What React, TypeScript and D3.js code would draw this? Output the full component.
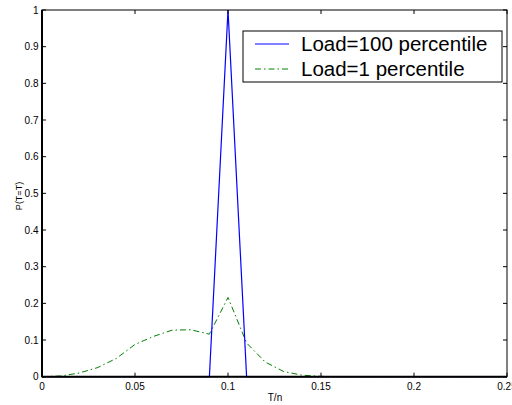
import React from "react";
import * as d3 from "d3";

const xs = [0, 0.01, 0.02, 0.03, 0.04, 0.05, 0.06, 0.07, 0.08, 0.09, 0.1, 0.11, 0.12, 0.13, 0.14, 0.15, 0.16, 0.17, 0.18, 0.19, 0.2, 0.21, 0.22, 0.23, 0.24, 0.25];
const load100 = [0, 0, 0, 0, 0, 0, 0, 0, 0, 0, 1, 0, 0, 0, 0, 0, 0, 0, 0, 0, 0, 0, 0, 0, 0, 0];
const load1 = [0, 0.002, 0.01, 0.025, 0.05, 0.088, 0.11, 0.127, 0.128, 0.116, 0.216, 0.092, 0.04, 0.014, 0.004, 0.001, 0, 0, 0, 0, 0, 0, 0, 0, 0, 0];
const xTicks = [0, 0.05, 0.1, 0.15, 0.2, 0.25];
const yTicks = [0, 0.1, 0.2, 0.3, 0.4, 0.5, 0.6, 0.7, 0.8, 0.9, 1];
const legendLabels = ["Load=100 percentile", "Load=1 percentile"];

export default function App() {
  const W = 512, H = 405;
  const L = 42, R = 507, T = 10, B = 376.7;
  const x = d3.scaleLinear().domain([0, 0.25]).range([L, R]);
  const y = d3.scaleLinear().domain([0, 1]).range([B, T]);
  const line = d3.line<number>().x((_, i) => x(xs[i])).y((d) => y(d));
  const font = "Liberation Sans, Arial, sans-serif";
  const tl = 4;
  return (
    <svg width={W} height={H} style={{ position: "absolute", left: 0, top: 0, background: "#fff" }} fontFamily={font}>
      <rect x={0} y={0} width={W} height={H} fill="#fff" />
      <path d={line(load1) || ""} fill="none" stroke="#008000" strokeWidth={1} strokeDasharray="6,3,1.5,3" />
      <path d={line(load100) || ""} fill="none" stroke="#0000ff" strokeWidth={1.2} />
      <rect x={L} y={T} width={R - L} height={B - T} fill="none" stroke="#000" strokeWidth={1} />
      <line x1={L} x2={L} y1={T} y2={B + 0.5} stroke="#000" strokeWidth={2} />
      <line x1={L} x2={R} y1={B} y2={B} stroke="#000" strokeWidth={2} />
      {xTicks.map((t) => (
        <g key={"x" + t}>
          <line x1={x(t)} x2={x(t)} y1={B} y2={B - tl} stroke="#000" />
          <line x1={x(t)} x2={x(t)} y1={T} y2={T + tl} stroke="#000" />
          <text x={x(t)} y={390} fontSize={10} textAnchor="middle">{String(t)}</text>
        </g>
      ))}
      {yTicks.map((t) => (
        <g key={"y" + t}>
          <line x1={L} x2={L + tl} y1={y(t)} y2={y(t)} stroke="#000" />
          <line x1={R} x2={R - tl} y1={y(t)} y2={y(t)} stroke="#000" />
          <text x={38.5} y={y(t) + 3.5} fontSize={10} textAnchor="end">{String(t)}</text>
        </g>
      ))}
      <text x={275} y={401} fontSize={10} textAnchor="middle">T/n</text>
      <text transform="translate(22,196) rotate(-90)" fontSize={9} textAnchor="middle">P(T=T)</text>
      <rect x={243} y={31} width={259} height={51} fill="#fff" stroke="#000" strokeWidth={1} />
      <line x1={255} x2={289} y1={44} y2={44} stroke="#0000ff" strokeWidth={1.2} />
      <line x1={255} x2={289} y1={69} y2={69} stroke="#008000" strokeWidth={1} strokeDasharray="6,3,1.5,3" />
      <text x={301} y={51} fontSize={20.5}>{legendLabels[0]}</text>
      <text x={301} y={76} fontSize={20.5}>{legendLabels[1]}</text>
    </svg>
  );
}
